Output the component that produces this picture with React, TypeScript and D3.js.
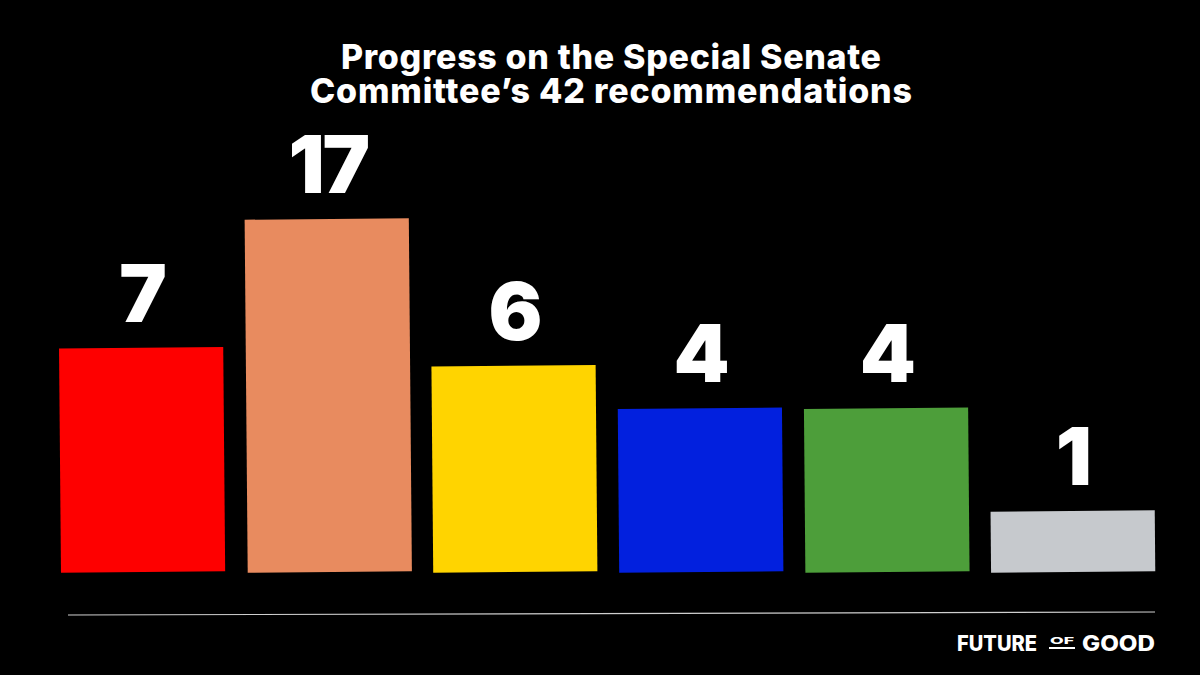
import React from "react";
import * as d3 from "d3";

const categories = ["bar1", "bar2", "bar3", "bar4", "bar5", "bar6"];
const values = [7, 17, 6, 4, 4, 1];
const colors = ["#fe0000", "#e88b5f", "#ffd400", "#0220de", "#4d9e3a", "#c6c9cd"];
const titleLines = ["Progress on the Special Senate", "Committee\u2019s 42 recommendations"];
const titleWidths = [540, 602];

const W = 1200;
const H = 675;
const baseY = 572;

export default function App() {
  const x = d3.scaleBand<string>().domain(categories).range([60, 1155]).paddingInner(0.118).paddingOuter(0);
  const h = d3.scalePow().exponent(0.4).domain([1, 17]).range([61, 353]);
  const bw = x.bandwidth();

  return (
    <svg width={W} height={H} style={{ position: "absolute", left: 0, top: 0, background: "#000" }}>
      <rect x={0} y={0} width={W} height={H} fill="#000" />
      <text fontFamily="Inter, 'Noto Sans', sans-serif" fontWeight={800} fill="#fff" textAnchor="middle" fontSize={34}>
        {titleLines.map((t, i) => (
          <tspan key={i} x={611} y={69 + i * 34} textLength={titleWidths[i]} lengthAdjust="spacing">{t}</tspan>
        ))}
      </text>
      {categories.map((c, i) => {
        const x0 = x(c) as number;
        const hh = h(values[i]);
        const y0 = baseY - hh;
        const cx = x0 + bw / 2;
        const cy = baseY - hh / 2;
        return (
          <g key={c} transform={`rotate(-0.5, ${cx}, ${cy})`}>
            <rect x={x0} y={y0} width={bw} height={hh} fill={colors[i]} />
          </g>
        );
      })}
      <g fontFamily="Inter, 'Noto Sans', sans-serif" fontWeight={900} fill="#fff" textAnchor="middle" fontSize={80}>
        {categories.map((c, i) => {
          const x0 = x(c) as number;
          const y0 = baseY - h(values[i]);
          return (
            <text key={c} x={x0 + bw / 2} y={y0 - 26} letterSpacing={-2}>{values[i]}</text>
          );
        })}
      </g>
      <line x1={68} y1={615} x2={1155} y2={612} stroke="#cfcfcf" strokeWidth={1.2} />
      <g fontFamily="Inter, 'Noto Sans', sans-serif" fontWeight={800} fill="#fff">
        <text x={957} y={651} fontSize={21} textLength={80} lengthAdjust="spacingAndGlyphs">FUTURE</text>
        <text x={1050} y={644} fontSize={9.5} textLength={24} lengthAdjust="spacingAndGlyphs">OF</text>
        <rect x={1049} y={647} width={26} height={2} fill="#fff" />
        <text x={1082} y={651} fontSize={21} textLength={73} lengthAdjust="spacingAndGlyphs">GOOD</text>
      </g>
    </svg>
  );
}
